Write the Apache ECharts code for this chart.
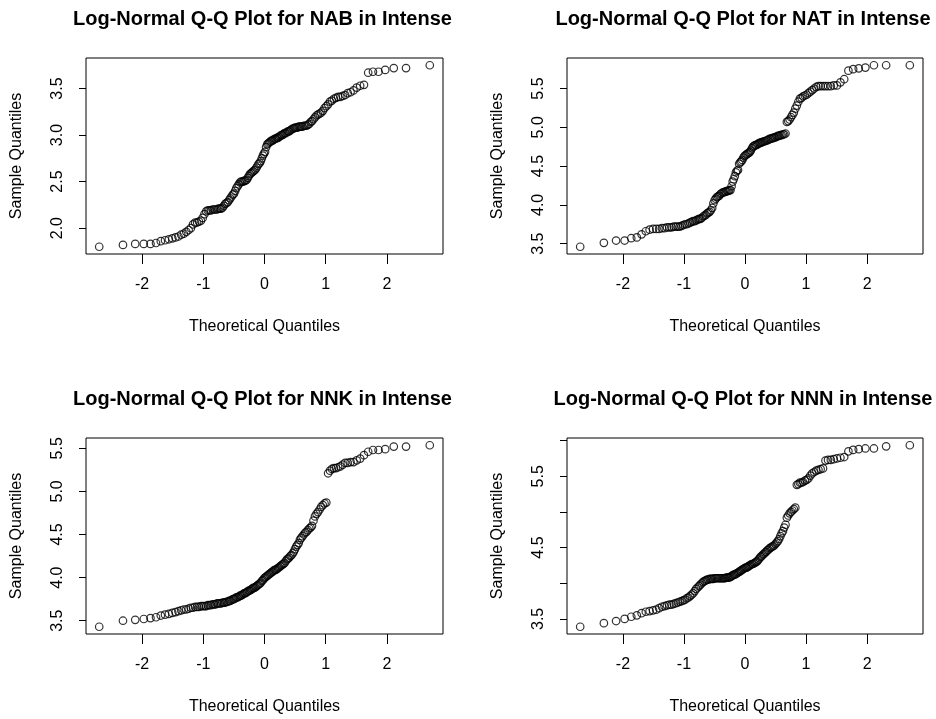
<!DOCTYPE html>
<html>
<head>
<meta charset="utf-8">
<script src="https://cdn.jsdelivr.net/npm/echarts@6/dist/echarts.min.js"></script>
<style>
  html, body { margin: 0; padding: 0; background: #fff; }
  #chart { width: 936px; height: 719px; }
</style>
</head>
<body>
<div id="chart"></div>
<script>
// Standard normal quantiles of the plotting positions (i - 0.5) / 144
const theoreticalQuantiles = [
  -2.700,-2.312,-2.112,-1.972,-1.863,-1.772,-1.694,-1.625,-1.563,-1.506,
  -1.454,-1.406,-1.360,-1.318,-1.278,-1.239,-1.203,-1.168,-1.134,-1.101,
  -1.070,-1.039,-1.010,-0.981,-0.953,-0.926,-0.900,-0.874,-0.849,-0.824,
  -0.800,-0.776,-0.753,-0.731,-0.708,-0.686,-0.664,-0.642,-0.621,-0.600,
  -0.579,-0.559,-0.538,-0.518,-0.498,-0.479,-0.460,-0.440,-0.421,-0.402,
  -0.383,-0.365,-0.346,-0.328,-0.310,-0.291,-0.273,-0.256,-0.238,-0.220,
  -0.202,-0.185,-0.167,-0.149,-0.131,-0.114,-0.096,-0.078,-0.061,-0.044,
  -0.026,-0.009,
  0.009,0.026,0.044,0.061,0.078,0.096,0.114,0.131,0.149,0.167,
  0.185,0.202,0.220,0.238,0.256,0.273,0.291,0.310,0.328,0.346,
  0.365,0.383,0.402,0.421,0.440,0.460,0.479,0.498,0.518,0.538,
  0.559,0.579,0.600,0.621,0.642,0.664,0.686,0.708,0.731,0.753,
  0.776,0.800,0.824,0.849,0.874,0.900,0.926,0.953,0.981,1.010,
  1.039,1.070,1.101,1.134,1.168,1.203,1.239,1.278,1.318,1.360,
  1.406,1.454,1.506,1.563,1.625,1.694,1.772,1.863,1.972,2.112,
  2.312,2.700
];

// Sorted log values (sample quantiles) for each group
const nabValues = [
  1.80,1.82,1.83,1.83,1.83,1.84,1.86,1.87,1.88,1.89,
  1.90,1.91,1.93,1.94,1.96,1.98,2.00,2.04,2.06,2.06,
  2.07,2.08,2.11,2.15,2.18,2.19,2.19,2.19,2.20,2.20,
  2.20,2.20,2.21,2.21,2.21,2.22,2.24,2.26,2.27,2.28,
  2.30,2.32,2.34,2.36,2.37,2.40,2.43,2.45,2.47,2.49,
  2.50,2.50,2.50,2.51,2.51,2.52,2.54,2.56,2.58,2.59,
  2.60,2.61,2.62,2.63,2.65,2.67,2.69,2.70,2.72,2.75,
  2.78,2.80,2.82,2.87,2.90,2.91,2.92,2.93,2.94,2.94,
  2.95,2.96,2.96,2.97,2.97,2.98,2.99,3.00,3.00,3.01,
  3.02,3.02,3.03,3.04,3.04,3.05,3.06,3.07,3.07,3.08,
  3.08,3.08,3.09,3.09,3.09,3.09,3.10,3.10,3.10,3.11,
  3.12,3.14,3.15,3.17,3.19,3.21,3.22,3.23,3.24,3.26,
  3.29,3.31,3.33,3.36,3.37,3.39,3.40,3.41,3.41,3.42,
  3.43,3.45,3.46,3.48,3.51,3.53,3.54,3.67,3.68,3.68,
  3.70,3.72,3.72,3.75
];

const natValues = [
  3.46,3.51,3.54,3.54,3.57,3.58,3.62,3.66,3.68,3.69,
  3.69,3.69,3.70,3.70,3.71,3.71,3.71,3.72,3.72,3.72,
  3.72,3.73,3.74,3.75,3.75,3.76,3.77,3.78,3.79,3.79,
  3.80,3.81,3.82,3.82,3.83,3.85,3.86,3.87,3.89,3.90,
  3.91,3.93,3.96,4.02,4.06,4.08,4.10,4.11,4.12,4.14,
  4.15,4.16,4.16,4.17,4.17,4.18,4.18,4.19,4.19,4.24,
  4.30,4.33,4.37,4.42,4.44,4.45,4.53,4.55,4.56,4.58,
  4.61,4.63,4.64,4.65,4.66,4.67,4.68,4.70,4.73,4.75,
  4.76,4.77,4.77,4.78,4.79,4.80,4.80,4.81,4.81,4.82,
  4.82,4.83,4.83,4.84,4.85,4.85,4.86,4.86,4.87,4.87,
  4.88,4.89,4.89,4.90,4.90,4.91,4.91,4.92,5.07,5.08,
  5.10,5.13,5.16,5.19,5.24,5.28,5.33,5.37,5.38,5.40,
  5.41,5.42,5.44,5.46,5.48,5.50,5.52,5.53,5.53,5.53,
  5.53,5.53,5.53,5.54,5.54,5.58,5.62,5.73,5.75,5.76,
  5.77,5.80,5.80,5.80
];

const nnkValues = [
  3.43,3.50,3.51,3.52,3.53,3.54,3.56,3.57,3.58,3.59,
  3.60,3.61,3.62,3.63,3.63,3.64,3.65,3.65,3.66,3.66,
  3.66,3.67,3.67,3.67,3.67,3.68,3.68,3.68,3.69,3.69,
  3.69,3.70,3.70,3.70,3.70,3.71,3.71,3.71,3.72,3.72,
  3.73,3.73,3.74,3.75,3.75,3.76,3.77,3.77,3.78,3.79,
  3.79,3.80,3.81,3.82,3.82,3.83,3.84,3.85,3.85,3.86,
  3.87,3.88,3.88,3.89,3.90,3.91,3.92,3.93,3.94,3.96,
  3.97,3.99,4.00,4.01,4.02,4.03,4.04,4.05,4.06,4.07,
  4.08,4.09,4.09,4.10,4.11,4.12,4.13,4.14,4.15,4.16,
  4.17,4.19,4.21,4.22,4.23,4.25,4.26,4.28,4.30,4.33,
  4.36,4.38,4.40,4.44,4.46,4.48,4.50,4.52,4.53,4.55,
  4.57,4.58,4.60,4.66,4.71,4.74,4.76,4.79,4.82,4.84,
  4.86,4.87,5.21,5.24,5.26,5.27,5.27,5.28,5.29,5.31,
  5.33,5.33,5.34,5.34,5.36,5.38,5.42,5.46,5.48,5.48,
  5.49,5.52,5.52,5.535
];

const nnnValues = [
  3.39,3.44,3.47,3.50,3.53,3.55,3.58,3.60,3.61,3.62,
  3.63,3.65,3.67,3.68,3.69,3.70,3.70,3.71,3.72,3.73,
  3.74,3.75,3.76,3.77,3.79,3.80,3.82,3.84,3.86,3.89,
  3.92,3.94,3.96,3.98,4.00,4.02,4.03,4.04,4.05,4.05,
  4.06,4.06,4.06,4.06,4.07,4.07,4.07,4.07,4.07,4.07,
  4.07,4.07,4.07,4.07,4.08,4.08,4.08,4.08,4.09,4.10,
  4.11,4.12,4.12,4.13,4.14,4.15,4.16,4.17,4.18,4.19,
  4.20,4.21,4.22,4.22,4.23,4.24,4.25,4.26,4.27,4.27,
  4.28,4.29,4.30,4.31,4.33,4.35,4.37,4.38,4.40,4.41,
  4.43,4.44,4.46,4.47,4.49,4.50,4.51,4.52,4.53,4.55,
  4.57,4.59,4.62,4.66,4.70,4.73,4.78,4.82,4.92,4.95,
  4.98,5.00,5.02,5.04,5.06,5.38,5.39,5.41,5.41,5.42,
  5.44,5.45,5.47,5.51,5.54,5.56,5.58,5.59,5.60,5.61,
  5.72,5.73,5.73,5.74,5.75,5.76,5.77,5.85,5.87,5.88,
  5.89,5.89,5.92,5.935
];

const groupNames = ['NAB', 'NAT', 'NNK', 'NNN'];
const groupValues = [nabValues, natValues, nnkValues, nnnValues];

const xTickValues = [-2, -1, 0, 1, 2];
const yTickValues = [
  [2.0, 2.5, 3.0, 3.5],
  [3.5, 4.0, 4.5, 5.0, 5.5],
  [3.5, 4.0, 4.5, 5.0, 5.5],
  [3.5, 4.0, 4.5, 5.0, 5.5, 6.0]
];
const yLabelValues = [
  [2.0, 2.5, 3.0, 3.5],
  [3.5, 4.0, 4.5, 5.0, 5.5],
  [3.5, 4.0, 4.5, 5.0, 5.5],
  [3.5, 4.5, 5.5]
];

const xAxisTitle = 'Theoretical Quantiles';
const yAxisTitle = 'Sample Quantiles';

// Panel layout (plot regions in pixels)
const panels = [
  { left: 86,  top: 58,  width: 357, height: 196, titleY: 19 },
  { left: 567, top: 58,  width: 356, height: 196, titleY: 19 },
  { left: 86,  top: 438, width: 357, height: 196, titleY: 399 },
  { left: 567, top: 438, width: 356, height: 196, titleY: 399 }
];

const FONT = '"Liberation Sans", Arial, Helvetica, sans-serif';

// Axis limits padded by 4% of the data range on each side
function paddedRange(arr) {
  const lo = Math.min.apply(null, arr);
  const hi = Math.max.apply(null, arr);
  const pad = (hi - lo) * 0.04;
  return [lo - pad, hi + pad];
}

const xRange = paddedRange(theoreticalQuantiles);

const chart = echarts.init(document.getElementById('chart'), null, { renderer: 'canvas' });

const option = {
  animation: false,
  backgroundColor: '#fff',
  grid: panels.map(p => ({
    left: p.left, top: p.top, width: p.width, height: p.height,
    show: true, borderColor: '#000', borderWidth: 1, backgroundColor: 'transparent',
    containLabel: false
  })),
  xAxis: panels.map((p, k) => ({
    type: 'value', gridIndex: k, position: 'bottom',
    min: xRange[0], max: xRange[1],
    axisLine: { show: false, onZero: false },
    splitLine: { show: false },
    axisTick: { show: true, length: 10, lineStyle: { color: '#000', width: 1 }, customValues: xTickValues },
    axisLabel: {
      show: true, margin: 23, fontSize: 16, color: '#000', fontFamily: FONT,
      customValues: xTickValues,
      formatter: v => String(Math.round(v))
    },
    name: xAxisTitle, nameLocation: 'middle', nameGap: 65,
    nameTextStyle: { fontSize: 16, color: '#000', fontFamily: FONT }
  })),
  yAxis: panels.map((p, k) => {
    const r = paddedRange(groupValues[k]);
    return {
      type: 'value', gridIndex: k, position: 'left',
      min: r[0], max: r[1],
      axisLine: { show: false, onZero: false },
      splitLine: { show: false },
      axisTick: { show: true, length: 7, lineStyle: { color: '#000', width: 1 }, customValues: yTickValues[k] },
      axisLabel: {
        show: true, rotate: 90, margin: 20, fontSize: 16, color: '#000', fontFamily: FONT,
        customValues: yLabelValues[k],
        formatter: v => v.toFixed(1)
      },
      name: yAxisTitle, nameLocation: 'middle', nameGap: 61,
      nameTextStyle: { fontSize: 16, color: '#000', fontFamily: FONT }
    };
  }),
  graphic: panels.map((p, k) => ({
    type: 'text',
    x: p.left + p.width / 2 - 2,
    y: p.titleY,
    silent: true,
    style: {
      text: 'Log-Normal Q-Q Plot for ' + groupNames[k] + ' in Intense',
      fontSize: 20, fontWeight: 'bold', fontFamily: FONT,
      fill: '#000', align: 'center', verticalAlign: 'middle'
    }
  })),
  series: groupValues.map((vals, k) => ({
    type: 'scatter', xAxisIndex: k, yAxisIndex: k,
    symbol: 'circle', symbolSize: 7.5,
    itemStyle: { color: 'rgba(0,0,0,0)', borderColor: '#000', borderWidth: 1.2 },
    emphasis: { disabled: true },
    silent: true,
    data: theoreticalQuantiles.map((q, i) => [q, vals[i]])
  }))
};

chart.setOption(option);
</script>
</body>
</html>
